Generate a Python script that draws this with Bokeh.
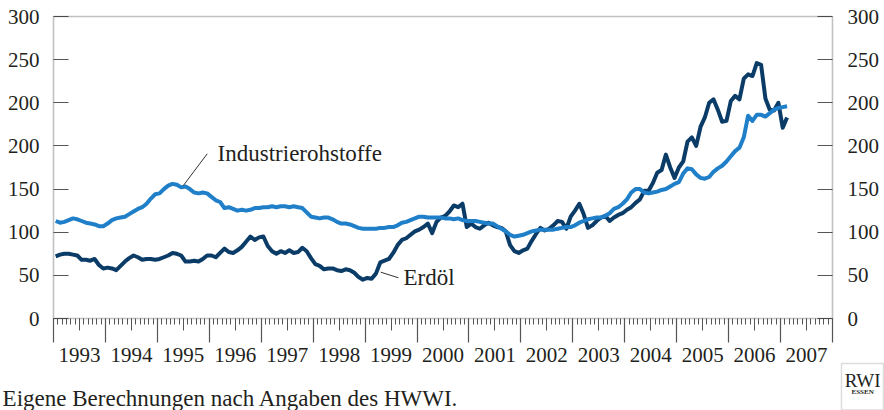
from bokeh.plotting import figure
from bokeh.models import (Range1d, LinearAxis, FixedTicker, Label, BoxAnnotation,
                          ColumnDataSource, Grid)
from bokeh.embed import file_html
from bokeh.resources import INLINE

# ---------------- data (monthly, Jan 1993 - Feb 2007) ----------------
START_YEAR = 1993
year_labels = [str(y) for y in range(1993, 2008)]

industrierohstoffe = [
    113, 111, 112, 114, 116, 115, 113, 111, 110, 109, 107, 107,   # 1993
    110, 114, 116, 117, 118, 121, 124, 127, 129, 133, 139, 144,   # 1994
    145, 150, 154, 156, 155, 152, 153, 150, 146, 145, 146, 145,   # 1995
    141, 137, 135, 128, 129, 127, 125, 126, 125, 126, 128, 128,   # 1996
    129, 129, 130, 129, 130, 130, 129, 130, 129, 128, 123, 118,   # 1997
    117, 116, 117, 117, 115, 112, 110, 110, 109, 107, 105, 104,   # 1998
    104, 104, 104, 105, 105, 106, 106, 108, 111, 112, 114, 116,   # 1999
    118, 118, 117, 117, 117, 117, 116, 116, 115, 116, 114, 113,   # 2000
    113, 113, 112, 111, 110, 110, 107, 104, 101, 97, 95, 96,      # 2001
    97, 99, 101, 102, 103, 103, 103, 103, 104, 105, 106, 106,     # 2002
    108, 111, 113, 115, 116, 117, 117, 119, 122, 127, 129, 133,   # 2003
    138, 146, 150, 150, 146, 145, 146, 147, 149, 150, 153, 156,   # 2004
    158, 168, 174, 173, 167, 163, 162, 164, 170, 174, 177, 182,   # 2005
    188, 194, 198, 210, 235, 229, 236, 236, 234, 238, 242, 244,   # 2006
    245, 246,                                                     # 2007
]

erdoel = [
    72, 74, 75, 75, 74, 73, 68, 68, 67, 69, 62, 58,               # 1993
    59, 58, 56, 61, 66, 70, 73, 71, 68, 69, 69, 68,               # 1994
    69, 71, 73, 76, 75, 73, 66, 66, 67, 66, 69, 73,               # 1995
    73, 71, 76, 81, 77, 76, 79, 83, 89, 95, 91, 94,               # 1996
    95, 84, 78, 75, 78, 76, 79, 76, 77, 82, 78, 70,               # 1997
    63, 61, 57, 58, 58, 56, 55, 57, 56, 53, 48, 45,               # 1998
    47, 46, 52, 65, 67, 69, 76, 85, 91, 93, 97, 101,              # 1999
    103, 106, 110, 99, 112, 117, 119, 124, 131, 129, 133, 106,    # 2000
    110, 106, 104, 108, 111, 108, 106, 105, 101, 85, 78, 76,      # 2001
    79, 81, 90, 98, 105, 102, 104, 108, 113, 112, 104, 118,       # 2002
    125, 133, 121, 105, 108, 113, 117, 119, 113, 117, 120, 122,   # 2003
    126, 129, 134, 138, 148, 148, 157, 169, 172, 190, 175, 163,   # 2004
    175, 182, 205, 210, 200, 222, 233, 250, 254, 242, 228, 229,   # 2005
    252, 258, 254, 278, 283, 281, 296, 294, 255, 242, 241, 250,   # 2006
    221, 233,                                                     # 2007
]

y_tick_values = [0, 50, 100, 150, 200, 250, 300, 350]
y_tick_labels = ["0", "50", "100", "150", "200", "200", "250", "300"]

# ---------------- geometry / styling ----------------
W, H = 884, 410
FONT = "Liberation Serif"
TXT = "#231f20"
AX = "#333333"
TICK = "#555555"
DARK = "#0b3c68"
LIGHT = "#1f7fc8"

X0, X1 = 1993, 2008            # data area (years)
Y0, Y1 = 0, 350                # data area (value scale)
PX_LEFT, PX_RIGHT, PX_TOP, PX_BOTTOM = 53, 832, 16, 318   # data area on the page
ppx = (PX_RIGHT - PX_LEFT) / (X1 - X0)
ppy = (PX_BOTTOM - PX_TOP) / (Y1 - Y0)
x_range = Range1d(X0 - PX_LEFT / ppx, X0 + (W - PX_LEFT) / ppx)
y_range = Range1d(Y0 - (H - PX_BOTTOM) / ppy, Y0 + PX_BOTTOM / ppy)

t = [START_YEAR + (i + 0.5) / 12 for i in range(len(industrierohstoffe))]
src = ColumnDataSource(dict(t=t, ind=industrierohstoffe, oil=erdoel))

p = figure(width=W, height=H, x_range=x_range, y_range=y_range,
           output_backend="svg", toolbar_location=None,
           x_axis_location=None, y_axis_location=None,
           min_border_left=0, min_border_right=0, min_border_top=0, min_border_bottom=0)
p.outline_line_color = None
p.background_fill_color = "white"
p.border_fill_color = "white"
p.center = [r for r in p.center if not isinstance(r, Grid)]

def y_axis(side, loc, standoff):
    ax = LinearAxis(fixed_location=loc,
                    ticker=FixedTicker(ticks=y_tick_values, minor_ticks=[]),
                    major_label_overrides={v: l for v, l in zip(y_tick_values, y_tick_labels)},
                    major_tick_in=15, major_tick_out=0, major_tick_line_color=TICK,
                    major_tick_line_width=1.2, minor_tick_line_color=None,
                    axis_line_color=None,
                    major_label_standoff=standoff, major_label_text_font=FONT,
                    major_label_text_font_size="21px", major_label_text_color=TXT)
    p.add_layout(ax, side)

y_axis("left", X0, 14)
y_axis("right", X1, 15)

# tick layers on the x axis line
year_bounds = list(range(X0, X1 + 1))
months = [X0 + i / 12 for i in range((X1 - X0) * 12 + 1)]
half_years = [X0 + i + 0.5 for i in range(X1 - X0)]
xt1 = LinearAxis(fixed_location=0, ticker=FixedTicker(ticks=year_bounds, minor_ticks=months),
                 major_tick_in=0, major_tick_out=24, minor_tick_in=0, minor_tick_out=6,
                 major_tick_line_color=TICK, minor_tick_line_color=TICK,
                 major_tick_line_width=1.2, minor_tick_line_width=1,
                 axis_line_color=None, major_label_text_color=None)
p.add_layout(xt1, "below")
xt2 = LinearAxis(fixed_location=0, ticker=FixedTicker(ticks=half_years, minor_ticks=[]),
                 major_tick_in=0, major_tick_out=12, major_tick_line_color=TICK,
                 major_tick_line_width=1, minor_tick_line_color=None, axis_line_color=None,
                 major_label_text_color=None)
p.add_layout(xt2, "below")

# year labels, centered between year boundaries
mid_years = [START_YEAR + i + 0.5 for i in range(len(year_labels))]
xlab = LinearAxis(fixed_location=0, ticker=FixedTicker(ticks=mid_years, minor_ticks=[]),
                  major_label_overrides={m: l for m, l in zip(mid_years, year_labels)},
                  major_tick_in=0, major_tick_out=0, major_tick_line_color=None,
                  minor_tick_line_color=None, axis_line_color=None,
                  major_label_standoff=29, major_label_text_font=FONT,
                  major_label_text_font_size="21px", major_label_text_color=TXT)
p.add_layout(xlab, "below")

# frame around the data area
p.add_layout(BoxAnnotation(left=X0, right=X1, bottom=Y0, top=Y1, fill_color=None,
                           line_color=AX, line_width=1.6, level="overlay"))

p.line("t", "oil", source=src, line_width=4, line_color=DARK, line_join="round")
p.line("t", "ind", source=src, line_width=4, line_color=LIGHT, line_join="round")

# leader lines
p.segment(x0=[1995.96, 1999.30], y0=[190.9, 53.7], x1=[1995.50, 1999.64], y1=[154.1, 47.2],
          line_color="#333333", line_width=1)

p.add_layout(Label(x=1996.16, y=191.3, text="Industrierohstoffe", text_font=FONT,
                   text_font_size="23px", text_color=TXT, text_baseline="alphabetic"))
p.add_layout(Label(x=1999.74, y=47.2, text="Erdöl", text_font=FONT,
                   text_font_size="23px", text_color=TXT, text_baseline="alphabetic"))

# footer
p.add_layout(Label(x=1992.02, y=-92.7, text="Eigene Berechnungen nach Angaben des HWWI.",
                   text_font=FONT, text_font_size="23px", text_color=TXT,
                   text_baseline="alphabetic"))

# RWI logo
p.add_layout(BoxAnnotation(left=2008.173, right=2008.982, top=-52.2, bottom=-106.0,
                           fill_color=None, line_color="#8a8a8a", line_width=1.5))
p.add_layout(Label(x=2008.58, y=-71.8, text="RWI", text_font=FONT, text_font_size="19px",
                   text_color=TXT, text_align="center", text_baseline="alphabetic"))
p.add_layout(Label(x=2008.58, y=-85.7, text="ESSEN", text_font=FONT, text_font_size="7px",
                   text_color=TXT, text_align="center", text_baseline="alphabetic",
                   text_font_style="bold"))

open("out.html", "w").write(file_html(p, INLINE))
